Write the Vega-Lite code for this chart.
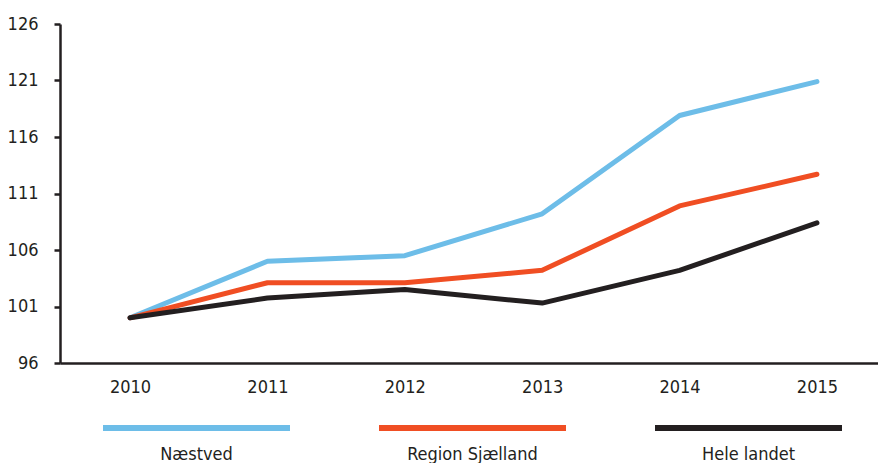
{
  "$schema": "https://vega.github.io/schema/vega-lite/v6.json",
  "padding": {"left": 7, "top": 15, "right": 0, "bottom": 0},
  "background": "white",
  "config": {
    "view": {"stroke": null},
    "font": "DejaVu Sans Condensed",
    "axis": {"labelFont": "'DejaVu Sans Condensed', 'Roboto Condensed', 'Liberation Sans Narrow', Roboto", "labelFontSize": 18, "labelColor": "#231f20", "domainColor": "#231f20", "tickColor": "#231f20", "grid": false, "title": null}
  },
  "datasets": {
    "main": [
      {"year": "2010", "series": "Næstved", "value": 100.0},
      {"year": "2011", "series": "Næstved", "value": 105.0},
      {"year": "2012", "series": "Næstved", "value": 105.5},
      {"year": "2013", "series": "Næstved", "value": 109.2},
      {"year": "2014", "series": "Næstved", "value": 117.9},
      {"year": "2015", "series": "Næstved", "value": 120.9},
      {"year": "2010", "series": "Region Sjælland", "value": 100.0},
      {"year": "2011", "series": "Region Sjælland", "value": 103.1},
      {"year": "2012", "series": "Region Sjælland", "value": 103.1},
      {"year": "2013", "series": "Region Sjælland", "value": 104.2},
      {"year": "2014", "series": "Region Sjælland", "value": 109.9},
      {"year": "2015", "series": "Region Sjælland", "value": 112.7},
      {"year": "2010", "series": "Hele landet", "value": 100.0},
      {"year": "2011", "series": "Hele landet", "value": 101.75},
      {"year": "2012", "series": "Hele landet", "value": 102.5},
      {"year": "2013", "series": "Hele landet", "value": 101.3},
      {"year": "2014", "series": "Hele landet", "value": 104.2},
      {"year": "2015", "series": "Hele landet", "value": 108.4}
    ],
    "legend": [
      {"series": "Næstved"},
      {"series": "Region Sjælland"},
      {"series": "Hele landet"}
    ]
  },
  "spacing": 29,
  "vconcat": [
    {
      "width": 827,
      "height": 339,
      "data": {"name": "main"},
      "mark": {"type": "line", "strokeWidth": 5, "strokeCap": "round", "strokeJoin": "round"},
      "encoding": {
        "x": {"field": "year", "type": "ordinal", "scale": {"type": "point", "padding": 0.51},
          "axis": {"labelAngle": 0, "ticks": false, "domainWidth": 2.5, "labelPadding": 15}},
        "y": {"field": "value", "type": "quantitative", "scale": {"domain": [96, 126], "nice": false, "zero": false},
          "axis": {"values": [96, 101, 106, 111, 116, 121, 126], "tickSize": 6, "tickWidth": 2.5, "domainWidth": 2.5, "labelPadding": 16}},
        "color": {"field": "series", "type": "nominal", "legend": null,
          "scale": {"domain": ["Næstved", "Region Sjælland", "Hele landet"], "range": ["#6dbde8", "#f04e23", "#231f20"]}},
        "order": {"field": "year"}
      }
    },
    {
      "width": 825,
      "height": 6,
      "data": {"name": "legend"},
      "mark": {"type": "bar"},
      "encoding": {
        "x": {"field": "series", "type": "nominal", "sort": null,
          "scale": {"type": "band", "paddingInner": 0.3225, "paddingOuter": 0.1558},
          "axis": {"labelAngle": 0, "ticks": false, "domain": false, "labelPadding": 14}},
        "color": {"field": "series", "type": "nominal", "legend": null,
          "scale": {"domain": ["Næstved", "Region Sjælland", "Hele landet"], "range": ["#6dbde8", "#f04e23", "#231f20"]}}
      }
    }
  ]
}
